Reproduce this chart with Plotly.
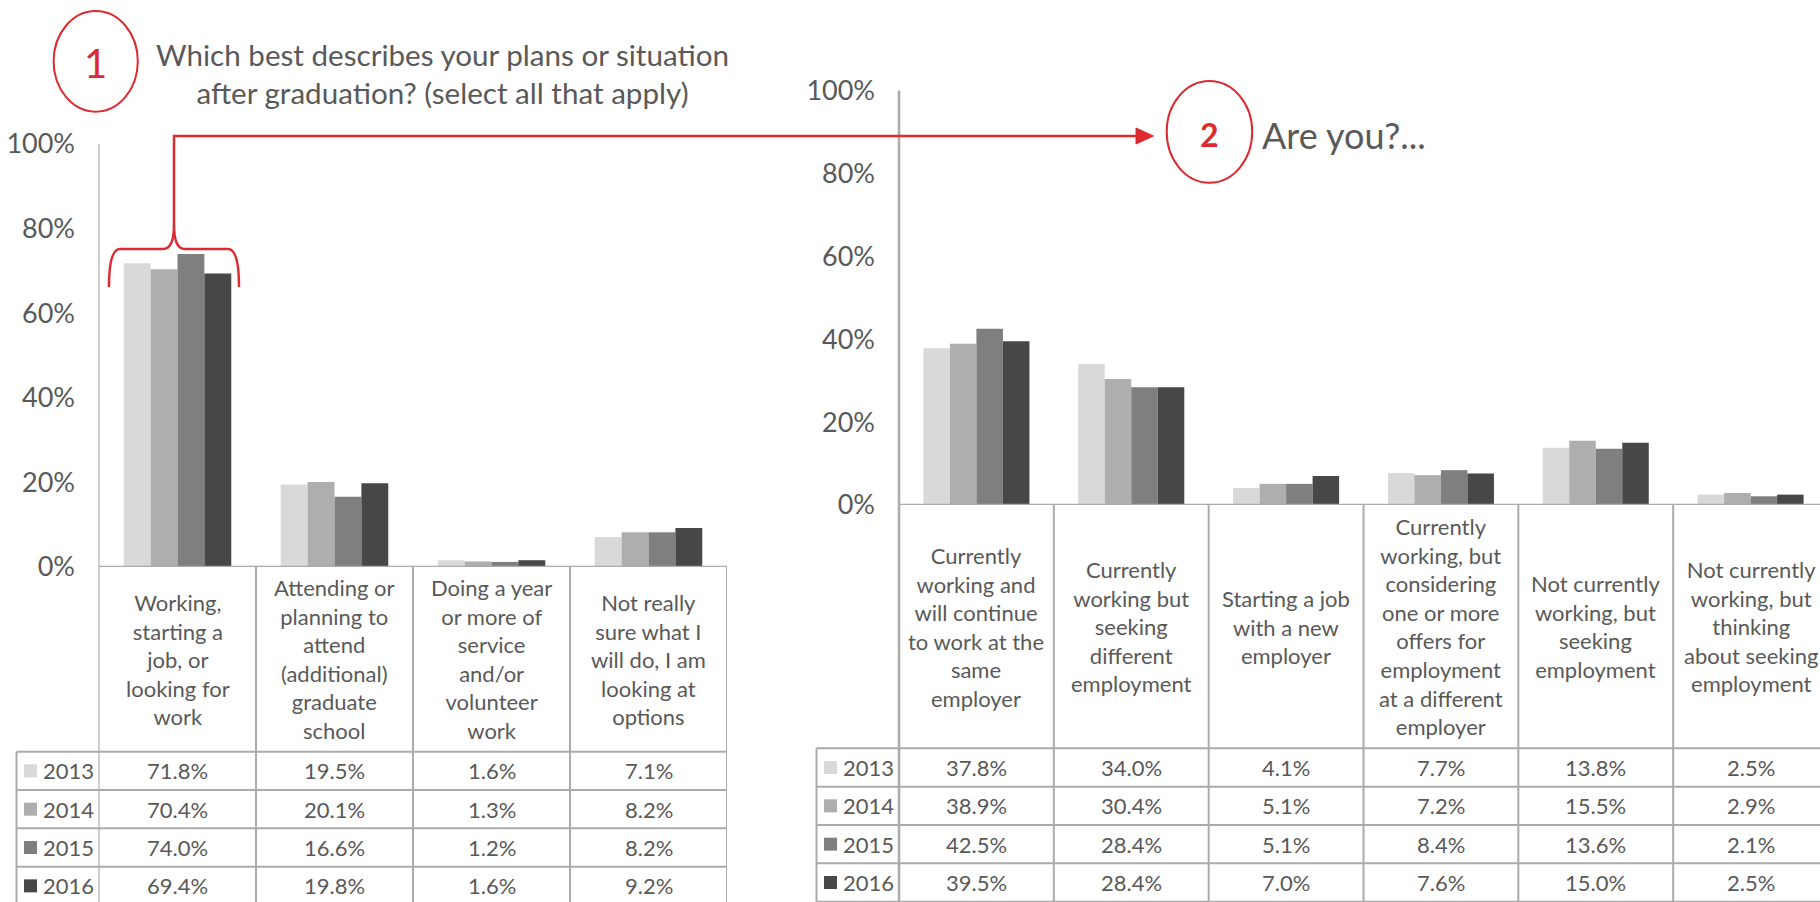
import plotly.graph_objects as go

W, H = 1820, 902

# ---------------- data ----------------
years = ["2013", "2014", "2015", "2016"]

q1_categories = [
    "Working,<br>starting a<br>job, or<br>looking for<br>work",
    "Attending or<br>planning to<br>attend<br>(additional)<br>graduate<br>school",
    "Doing a year<br>or more of<br>service<br>and/or<br>volunteer<br>work",
    "Not really<br>sure what I<br>will do, I am<br>looking at<br>options",
]
q1_2013 = [71.8, 19.5, 1.6, 7.1]
q1_2014 = [70.4, 20.1, 1.3, 8.2]
q1_2015 = [74.0, 16.6, 1.2, 8.2]
q1_2016 = [69.4, 19.8, 1.6, 9.2]

q2_categories = [
    "Currently<br>working and<br>will continue<br>to work at the<br>same<br>employer",
    "Currently<br>working but<br>seeking<br>different<br>employment",
    "Starting a job<br>with a new<br>employer",
    "Currently<br>working, but<br>considering<br>one or more<br>offers for<br>employment<br>at a different<br>employer",
    "Not currently<br>working, but<br>seeking<br>employment",
    "Not currently<br>working, but<br>thinking<br>about seeking<br>employment",
]
q2_2013 = [37.8, 34.0, 4.1, 7.7, 13.8, 2.5]
q2_2014 = [38.9, 30.4, 5.1, 7.2, 15.5, 2.9]
q2_2015 = [42.5, 28.4, 5.1, 8.4, 13.6, 2.1]
q2_2016 = [39.5, 28.4, 7.0, 7.6, 15.0, 2.5]

y_tick_values = [0, 20, 40, 60, 80, 100]
y_tick_labels = ["0%", "20%", "40%", "60%", "80%", "100%"]

title_q1 = "Which best describes your plans or situation<br>after graduation? (select all that apply)"
title_q2 = "Are you?..."

# ---------------- style ----------------
year_colors = ["#D9D9D9", "#AEAEAE", "#7F7F7F", "#474747"]
TEXT = "#595959"
RED = "#DD2A30"
GRID = "#ABABAB"
FONT = "Lato"


def px(x):
    return x / W


def py(y):
    return 1 - y / H


def pt(x, y):
    return f"{px(x):.5f},{py(y):.5f}"


q1_series = [q1_2013, q1_2014, q1_2015, q1_2016]
q2_series = [q2_2013, q2_2014, q2_2015, q2_2016]

fig = go.Figure()
for yr, col, vals in zip(years, year_colors, q1_series):
    fig.add_trace(go.Bar(x=list(range(len(q1_categories))), y=vals, name=yr,
                         marker=dict(color=col, line=dict(width=0)),
                         xaxis="x", yaxis="y", showlegend=False, hoverinfo="skip"))
for yr, col, vals in zip(years, year_colors, q2_series):
    fig.add_trace(go.Bar(x=list(range(len(q2_categories))), y=vals, name=yr,
                         marker=dict(color=col, line=dict(width=0)),
                         xaxis="x2", yaxis="y2", showlegend=False, hoverinfo="skip"))

# geometry (pixels)
L_AX, L_RIGHT, L_ZERO, L_TOP = 99, 727, 567, 144
R_AX, R_RIGHT_FULL, R_ZERO, R_TOP = 899, 1828, 505, 90.5
col_w_r = (R_RIGHT_FULL - R_AX) / len(q2_categories)
r_range_hi = -0.5 + (W - R_AX) / col_w_r

L_LEG = 16.5
R_LEG = 816.5
L_ROWS = [751.7, 790.0, 828.3, 866.7, 905.0]
R_ROWS = [748.3, 786.7, 825.0, 863.3, 901.7]

TICK_FONT = dict(family=FONT, size=27, color=TEXT)
axis_common = dict(showgrid=False, zeroline=False, showline=False, automargin=False)
fig.update_layout(
    width=W, height=H, autosize=False,
    margin=dict(l=0, r=0, t=0, b=0, pad=0),
    paper_bgcolor="white", plot_bgcolor="rgba(0,0,0,0)",
    barmode="group", bargap=0.315, bargroupgap=0,
    showlegend=False,
    font=dict(family=FONT, color=TEXT),
    xaxis=dict(domain=[px(L_AX), px(L_RIGHT)], range=[-0.5, len(q1_categories) - 0.5],
               showticklabels=False, ticks="", anchor="y", **axis_common),
    yaxis=dict(domain=[py(L_ZERO), py(L_TOP)], range=[0, 100], tickvals=y_tick_values,
               ticktext=y_tick_labels, ticks="", ticklabelstandoff=23, anchor="x",
               tickfont=TICK_FONT, **axis_common),
    xaxis2=dict(domain=[px(R_AX), 1.0], range=[-0.5, r_range_hi],
                showticklabels=False, ticks="", anchor="y2", **axis_common),
    yaxis2=dict(domain=[py(R_ZERO), py(R_TOP)], range=[0, 100], tickvals=y_tick_values,
                ticktext=y_tick_labels, ticks="", ticklabelstandoff=23, anchor="x2",
                tickfont=TICK_FONT, **axis_common),
)

shapes = []
annotations = []


def line(x0, y0, x1, y1, color=GRID, width=2, xref="paper", yref="paper"):
    shapes.append(dict(type="line", x0=x0, y0=y0, x1=x1, y1=y1, xref=xref, yref=yref,
                       line=dict(color=color, width=width), layer="above"))


def build_table(xref, yref, ncat, ax_px, top_px, zero_px, leg_px, rows, right_x, right_px,
                ax_color, ax_width):
    # y axis line running down through the table
    line(px(ax_px), py(top_px), px(ax_px), py(rows[-1]), color=ax_color, width=ax_width)
    # 0% axis line
    shapes.append(dict(type="line", xref=f"{xref} domain", yref=yref, x0=0, x1=1, y0=0, y1=0,
                       line=dict(color=GRID, width=2.5), layer="above"))
    # column separators
    for i in range(ncat):
        xb = i + 0.5
        if xb <= right_x:
            line(xb, py(zero_px), xb, py(rows[-1]), xref=xref)
    # legend column left border
    line(px(leg_px), py(rows[0]), px(leg_px), py(rows[-1]))
    # row lines
    for r in rows:
        line(px(leg_px), py(r), px(right_px), py(r))


build_table("x", "y", len(q1_categories), L_AX, L_TOP, L_ZERO, L_LEG, L_ROWS,
            len(q1_categories) - 0.5, L_RIGHT, "#BFBFBF", 1.5)
build_table("x2", "y2", len(q2_categories), R_AX, R_TOP, R_ZERO, R_LEG, R_ROWS,
            r_range_hi, W, GRID, 2.5)

# category labels
for i, c in enumerate(q1_categories):
    annotations.append(dict(x=i, xref="x", y=py((L_ZERO + L_ROWS[0]) / 2), yref="paper",
                            text=c, showarrow=False, align="center", xanchor="center",
                            yanchor="middle", font=dict(family=FONT, size=22, color=TEXT)))
for i, c in enumerate(q2_categories):
    annotations.append(dict(x=i, xref="x2", y=py((R_ZERO + R_ROWS[0]) / 2), yref="paper",
                            text=c, showarrow=False, align="center", xanchor="center",
                            yanchor="middle", font=dict(family=FONT, size=22, color=TEXT)))


def table_values(series, xref, rows, leg_px):
    for k, (yr, col, vals) in enumerate(zip(years, year_colors, series)):
        yc = (rows[k] + rows[k + 1]) / 2
        for i, v in enumerate(vals):
            annotations.append(dict(x=i, xref=xref, y=py(yc), yref="paper", text=f"{v:.1f}%",
                                    showarrow=False, xanchor="center", yanchor="middle",
                                    font=dict(family=FONT, size=22, color=TEXT)))
        sq = 13
        x0 = leg_px + 7.5
        shapes.append(dict(type="rect", xref="paper", yref="paper",
                           x0=px(x0), x1=px(x0 + sq), y0=py(yc - sq / 2), y1=py(yc + sq / 2),
                           fillcolor=col, line=dict(width=0), layer="above"))
        annotations.append(dict(x=px(x0 + sq + 4), xref="paper", y=py(yc), yref="paper", text=yr,
                                showarrow=False, xanchor="left", yanchor="middle",
                                font=dict(family=FONT, size=22, color=TEXT)))


table_values(q1_series, "x", L_ROWS, L_LEG)
table_values(q2_series, "x2", R_ROWS, R_LEG)

# ---------------- red annotations ----------------
shapes.append(dict(type="circle", xref="paper", yref="paper", x0=px(53.6), x1=px(137.8),
                   y0=py(111.7), y1=py(11), line=dict(color=RED, width=2)))
shapes.append(dict(type="circle", xref="paper", yref="paper", x0=px(1166.7), x1=px(1252.2),
                   y0=py(182.7), y1=py(81), line=dict(color=RED, width=2)))
brace = ("M " + pt(109, 287) + " Q " + pt(109, 249) + " " + pt(120, 249) + " L " + pt(163, 249)
         + " Q " + pt(174, 249) + " " + pt(174, 225) + " Q " + pt(174, 249) + " " + pt(185, 249)
         + " L " + pt(228, 249) + " Q " + pt(239, 249) + " " + pt(239, 287))
shapes.append(dict(type="path", xref="paper", yref="paper", path=brace,
                   line=dict(color=RED, width=2.5)))
connector = "M " + pt(174, 226) + " L " + pt(174, 136) + " L " + pt(1138, 136)
shapes.append(dict(type="path", xref="paper", yref="paper", path=connector,
                   line=dict(color=RED, width=2.5)))
arrow = "M " + pt(1136, 128) + " L " + pt(1153.5, 136) + " L " + pt(1136, 144) + " Z"
shapes.append(dict(type="path", xref="paper", yref="paper", path=arrow,
                   fillcolor=RED, line=dict(color=RED, width=1)))

annotations.append(dict(x=px(95.7), y=py(63), xref="paper", yref="paper", text="1",
                        showarrow=False, xanchor="center", yanchor="middle",
                        font=dict(family=FONT, size=40, color=RED)))
annotations.append(dict(x=px(1209.5), y=py(134), xref="paper", yref="paper", text="<b>2</b>",
                        showarrow=False, xanchor="center", yanchor="middle",
                        font=dict(family=FONT, size=32, color=RED)))
annotations.append(dict(x=px(442), y=py(73), xref="paper", yref="paper", text=title_q1,
                        showarrow=False, xanchor="center", yanchor="middle", align="center",
                        font=dict(family=FONT, size=29.6, color=TEXT)))
annotations.append(dict(x=px(1260), y=py(135), xref="paper", yref="paper", text=title_q2,
                        showarrow=False, xanchor="left", yanchor="middle",
                        font=dict(family=FONT, size=36, color=TEXT)))

fig.update_layout(shapes=shapes, annotations=annotations)
fig.write_html("out.html", config={"displayModeBar": False})

# remove the default page margin so the figure sits at the window's top-left corner
with open("out.html", "r", encoding="utf-8") as f:
    html = f.read()
html = html.replace("<head>", "<head><style>html,body{margin:0;padding:0;overflow:hidden;}</style>", 1)
with open("out.html", "w", encoding="utf-8") as f:
    f.write(html)
